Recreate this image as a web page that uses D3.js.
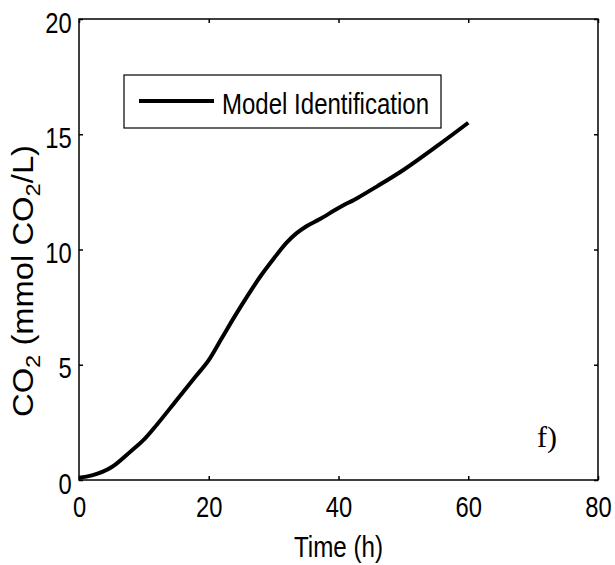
<!DOCTYPE html>
<html lang="en">
<head>
    <meta charset="UTF-8">
    <title>CO2 model identification</title>
    <style>
        body { margin: 0; background: #fff; }
        text { font-family: "Liberation Sans Narrow", "Arial Narrow", "Liberation Sans", Arial, sans-serif; fill: #000; }
    </style>
</head>
<body>
<script src="https://d3js.org/d3.v7.min.js"></script>
<script>
    // values
    var timeH = [0, 2, 5, 8, 10, 12, 15, 18, 20, 22, 24, 26, 28, 30, 32, 33.5, 35, 37, 40, 43, 46, 50, 55, 60];
    var co2   = [0.1, 0.2, 0.55, 1.25, 1.75, 2.4, 3.45, 4.5, 5.2, 6.15, 7.1, 8.0, 8.85, 9.6, 10.3, 10.7, 11.0, 11.3, 11.8, 12.25, 12.75, 13.45, 14.45, 15.5];
    var xTicks = [0, 20, 40, 60, 80];
    var yTicks = [0, 5, 10, 15, 20];
    var seriesName = "Model Identification";
    var panelTag = "f)";

    var width = 615,
        height = 565;
    // plot box (named so it does not clash with window.top)
    var pL = 79, pR = 598, pT = 19, pB = 480;
    var narrow = 0.82;   // no Arial Narrow here, so squeeze the sans text

    var svg = d3.select("body")
        .append("svg")
        .attr("width", width)
        .attr("height", height);

    var x = d3.scaleLinear().domain([0, 80]).range([pL, pR]);
    var y = d3.scaleLinear().domain([0, 20]).range([pB, pT]);

    // box
    svg.append("rect")
        .attr("x", pL).attr("y", pT)
        .attr("width", pR - pL).attr("height", pB - pT)
        .attr("fill", "none").attr("stroke", "#000").attr("stroke-width", 1.5);

    // axes with inward ticks, MATLAB style
    var xAxis = svg.append("g").attr("transform", "translate(0," + pB + ")")
        .call(d3.axisBottom(x).tickValues(xTicks).tickSizeInner(-4).tickSizeOuter(0).tickPadding(16));
    var yAxis = svg.append("g").attr("transform", "translate(" + pL + ",0)")
        .call(d3.axisLeft(y).tickValues(yTicks).tickSizeInner(-4).tickSizeOuter(0).tickPadding(9));
    svg.append("g").attr("transform", "translate(0," + pT + ")")
        .call(d3.axisTop(x).tickValues(xTicks).tickSizeInner(-4).tickSizeOuter(0).tickFormat(""));
    svg.append("g").attr("transform", "translate(" + pR + ",0)")
        .call(d3.axisRight(y).tickValues(yTicks).tickSizeInner(-4).tickSizeOuter(0).tickFormat(""));

    svg.selectAll(".domain").remove();
    svg.selectAll("g").attr("font-family", null).attr("font-size", null);
    svg.selectAll(".tick line").attr("stroke", "#000").attr("stroke-width", 1.5);
    svg.selectAll(".tick text")
        .attr("font-size", 29)
        .attr("transform", "scale(" + narrow + ",1)");
    yAxis.selectAll(".tick text").attr("dy", "0.45em");

    // the curve
    var line = d3.line()
        .x(function(d, i){ return x(timeH[i]); })
        .y(function(d){ return y(d); })
        .curve(d3.curveMonotoneX);

    svg.append("path")
        .datum(co2)
        .attr("d", line)
        .attr("fill", "none")
        .attr("stroke", "#000")
        .attr("stroke-width", 4)
        .attr("stroke-linejoin", "round");

    // text squeezed to a measured width
    function label(px, py, rot, len, size) {
        return svg.append("text")
            .attr("transform", "translate(" + px + "," + py + ")" + (rot ? " rotate(" + rot + ")" : ""))
            .attr("font-size", size)
            .attr("textLength", len)
            .attr("lengthAdjust", "spacingAndGlyphs");
    }

    // legend
    var leg = svg.append("g");
    leg.append("rect")
        .attr("x", 124).attr("y", 75).attr("width", 317).attr("height", 53)
        .attr("fill", "#fff").attr("stroke", "#000").attr("stroke-width", 1.2);
    leg.append("line")
        .attr("x1", 139).attr("x2", 214).attr("y1", 101).attr("y2", 101)
        .attr("stroke", "#000").attr("stroke-width", 4);
    label(222, 114, 0, 207, 29).text(seriesName);

    // panel tag
    svg.append("text")
        .attr("x", 537).attr("y", 447)
        .attr("font-size", 30)
        .style("font-family", "'Liberation Serif', 'Times New Roman', serif")
        .text(panelTag);

    // axis titles
    label(294, 557, 0, 89, 29).text("Time (h)");

    var yt = label(33, 417, -90, 272, 29);
    yt.append("tspan").text("CO");
    yt.append("tspan").attr("font-size", 21).attr("dy", 7).text("2");
    yt.append("tspan").attr("dy", -7).text(" (mmol CO");
    yt.append("tspan").attr("font-size", 21).attr("dy", 7).text("2");
    yt.append("tspan").attr("dy", -7).text("/L)");
</script>
</body>
</html>
